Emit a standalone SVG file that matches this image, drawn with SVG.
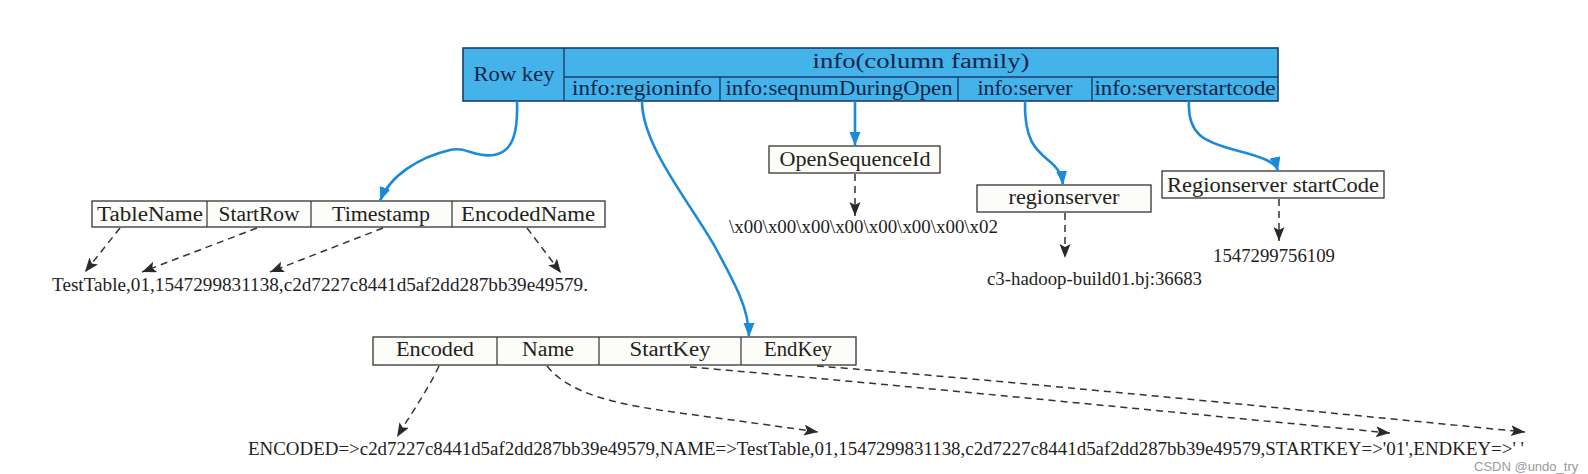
<svg xmlns="http://www.w3.org/2000/svg" width="1588" height="474" viewBox="0 0 1588 474">
<style>
  .hdr { fill: #43b3e9; stroke: #1d3c6c; stroke-width: 1.6; }
  .hline { stroke: #1d3c6c; stroke-width: 1.4; fill: none; }
  .ht { font-family: "Liberation Serif", "Times New Roman", serif; font-size: 20px; fill: #12244a; text-anchor: middle; }
  .box { fill: #fcfcf8; stroke: #333; stroke-width: 1.3; }
  .bline { stroke: #333; stroke-width: 1.2; fill: none; }
  .bt { font-family: "Liberation Serif", "Times New Roman", serif; font-size: 20px; fill: #222; text-anchor: middle; }
  .dt { font-family: "Liberation Serif", "Times New Roman", serif; font-size: 18.5px; fill: #222; }
  .blue { stroke: #1b8ad8; stroke-width: 2.6; fill: none; marker-end: url(#ab); }
  .dash { stroke: #333; stroke-width: 1.5; fill: none; stroke-dasharray: 7 5; marker-end: url(#ad); }
  .wm { font-family: "Liberation Sans", Arial, sans-serif; font-size: 13px; fill: #9a9a9a; }
</style>
<defs>
  <marker id="ab" markerUnits="userSpaceOnUse" markerWidth="16" markerHeight="12" refX="14" refY="5.5" orient="auto">
    <path d="M0,0 L14,5.5 L0,11 Z" fill="#1b8ad8"/>
  </marker>
  <marker id="ad" markerUnits="userSpaceOnUse" markerWidth="16" markerHeight="12" refX="14" refY="5.5" orient="auto">
    <path d="M0,0 L14,5.5 L0,11 L3,5.5 Z" fill="#2a2a2a"/>
  </marker>
</defs>
<rect width="1588" height="474" fill="#ffffff"/>

<g id="meta-table">
  <rect class="hdr" x="463" y="48" width="815" height="53"/>
  <path class="hline" d="M564,48 V101 M564,77 H1278 M720,77 V101 M958,77 V101 M1092,77 V101"/>
  <text class="ht" x="514" y="81" textLength="81" lengthAdjust="spacingAndGlyphs">Row key</text>
  <text class="ht" x="921" y="68" textLength="217" lengthAdjust="spacingAndGlyphs">info(column family)</text>
  <text class="ht" x="642" y="95" textLength="140" lengthAdjust="spacingAndGlyphs">info:regioninfo</text>
  <text class="ht" x="839" y="95" textLength="227" lengthAdjust="spacingAndGlyphs">info:seqnumDuringOpen</text>
  <text class="ht" x="1025" y="95" textLength="95" lengthAdjust="spacingAndGlyphs">info:server</text>
  <text class="ht" x="1185" y="95" textLength="181" lengthAdjust="spacingAndGlyphs">info:serverstartcode</text>
</g>

<g id="rowkey-table">
  <rect class="box" x="92" y="201" width="513" height="26"/>
  <path class="bline" d="M207,201 V227 M311,201 V227 M452,201 V227"/>
  <text class="bt" x="150" y="221" textLength="106" lengthAdjust="spacingAndGlyphs">TableName</text>
  <text class="bt" x="259" y="221" textLength="81" lengthAdjust="spacingAndGlyphs">StartRow</text>
  <text class="bt" x="381" y="221" textLength="98" lengthAdjust="spacingAndGlyphs">Timestamp</text>
  <text class="bt" x="528" y="221" textLength="134" lengthAdjust="spacingAndGlyphs">EncodedName</text>
</g>
<g id="rowkey-value">
  <text class="dt" x="52" y="291" textLength="536" lengthAdjust="spacingAndGlyphs">TestTable,01,1547299831138,c2d7227c8441d5af2dd287bb39e49579.</text>
</g>

<g id="open-seq">
  <rect class="box" x="769" y="146" width="171" height="27"/>
  <text class="bt" x="855" y="166" textLength="151" lengthAdjust="spacingAndGlyphs">OpenSequenceId</text>
</g>
<g id="open-seq-value">
  <text class="dt" x="729" y="233" textLength="269" lengthAdjust="spacingAndGlyphs">\x00\x00\x00\x00\x00\x00\x00\x02</text>
</g>

<g id="regionserver">
  <rect class="box" x="977" y="185" width="174" height="27"/>
  <text class="bt" x="1064" y="204" textLength="111" lengthAdjust="spacingAndGlyphs">regionserver</text>
</g>
<g id="regionserver-value">
  <text class="dt" x="987" y="285" textLength="215" lengthAdjust="spacingAndGlyphs">c3-hadoop-build01.bj:36683</text>
</g>

<g id="startcode">
  <rect class="box" x="1162" y="171" width="222" height="27"/>
  <text class="bt" x="1273" y="192" textLength="212" lengthAdjust="spacingAndGlyphs">Regionserver startCode</text>
</g>
<g id="startcode-value">
  <text class="dt" x="1213" y="262" textLength="122" lengthAdjust="spacingAndGlyphs">1547299756109</text>
</g>

<g id="regioninfo-table">
  <rect class="box" x="373" y="337" width="483" height="28"/>
  <path class="bline" d="M497,337 V365 M599,337 V365 M741,337 V365"/>
  <text class="bt" x="435" y="356" textLength="78" lengthAdjust="spacingAndGlyphs">Encoded</text>
  <text class="bt" x="548" y="356" textLength="52" lengthAdjust="spacingAndGlyphs">Name</text>
  <text class="bt" x="670" y="356" textLength="81" lengthAdjust="spacingAndGlyphs">StartKey</text>
  <text class="bt" x="798" y="356" textLength="68" lengthAdjust="spacingAndGlyphs">EndKey</text>
</g>
<g id="regioninfo-value">
  <text class="dt" x="248" y="455" textLength="1276" lengthAdjust="spacingAndGlyphs">ENCODED=&gt;c2d7227c8441d5af2dd287bb39e49579,NAME=&gt;TestTable,01,1547299831138,c2d7227c8441d5af2dd287bb39e49579,STARTKEY=&gt;'01',ENDKEY=&gt;' '</text>
</g>

<g id="connectors">
  <path class="blue" d="M517,101 C518,130 514,152 494,155 C474,158 466,146 450,150 C420,157 390,175 380,201"/>
  <path class="blue" d="M642,101 C642,145 688,200 714,245 C737,287 749,310 749,337"/>
  <path class="blue" d="M855,101 V146"/>
  <path class="blue" d="M1025,101 C1024,140 1036,150 1048,160 C1058,168 1062,175 1063,185"/>
  <path class="blue" d="M1189,101 C1187,135 1205,142 1235,150 C1262,157 1276,162 1278,171"/>

  <path class="dash" d="M120,228 L85,272"/>
  <path class="dash" d="M257,228 L142,272"/>
  <path class="dash" d="M383,228 L270,272"/>
  <path class="dash" d="M527,228 L561,273"/>
  <path class="dash" d="M855,174 V216"/>
  <path class="dash" d="M1065,213 V258"/>
  <path class="dash" d="M1279,199 V241"/>
  <path class="dash" d="M439,366 C428,390 412,412 397,437"/>
  <path class="dash" d="M547,366 C570,395 620,405 680,413 C740,421 790,428 818,432"/>
  <path class="dash" d="M690,367 C900,385 1200,415 1390,433"/>
  <path class="dash" d="M817,366 C1000,380 1300,410 1525,432"/>
</g>

<text class="wm" x="1474" y="471">CSDN @undo_try</text>
</svg>
